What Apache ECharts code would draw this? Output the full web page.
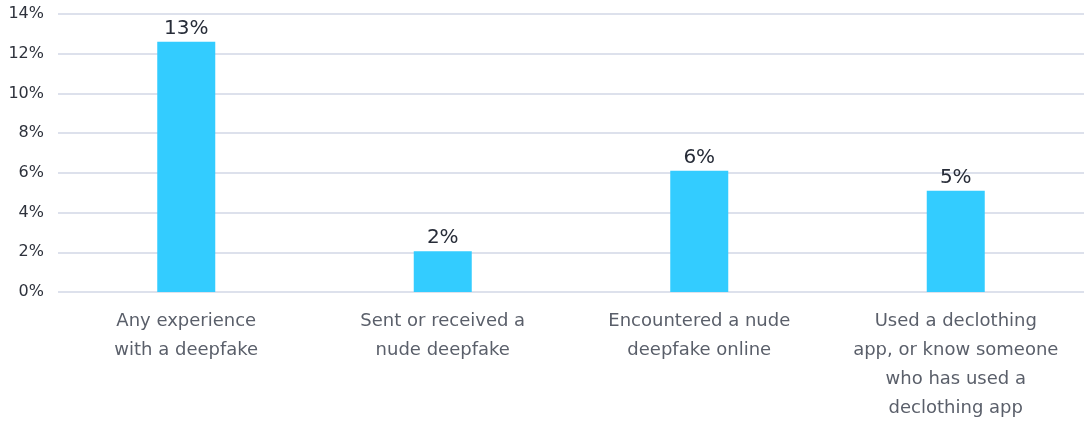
<!DOCTYPE html>
<html><head><meta charset="utf-8">
<script src="https://cdn.jsdelivr.net/npm/echarts@6/dist/echarts.min.js"></script>
<style>html,body{margin:0;padding:0;background:#fff}#c{width:1084px;height:421px}</style>
</head><body><div id="c"></div>
<script>
const categories = [
  "Any experience\nwith a deepfake",
  "Sent or received a\nnude deepfake",
  "Encountered a nude\ndeepfake online",
  "Used a declothing\napp, or know someone\nwho has used a\ndeclothing app"
];
const values = [12.6, 2.05, 6.1, 5.1];
const yTicks = [0, 2, 4, 6, 8, 10, 12, 14];

const font = "'DejaVu Sans', sans-serif";
const chart = echarts.init(document.getElementById('c'), null, {renderer: 'canvas'});
chart.setOption({
  animation: false,
  grid: {left: 58, right: 0, top: 14, bottom: 129, containLabel: false, outerBoundsMode: 'none'},
  xAxis: {
    type: 'category', data: categories,
    axisLine: {show: false}, axisTick: {show: false},
    axisLabel: {interval: 0, color: '#5a5f6a', fontFamily: font, fontSize: 18, lineHeight: 29, margin: 15}
  },
  yAxis: {
    type: 'value', min: yTicks[0], max: yTicks[yTicks.length - 1], interval: 2,
    axisLine: {show: false}, axisTick: {show: false},
    axisLabel: {color: '#2e323c', fontFamily: font, fontSize: 16, margin: 14, formatter: v => v + '%'},
    splitLine: {lineStyle: {color: '#dde1ec', width: 2}}
  },
  series: [{
    type: 'bar', data: values, barWidth: 58,
    itemStyle: {color: '#33ccff'},
    label: {show: true, position: 'top', distance: 3, color: '#272c38', fontFamily: font, fontSize: 20,
      formatter: p => Math.round(p.value) + '%'}
  }]
});
</script></body></html>
